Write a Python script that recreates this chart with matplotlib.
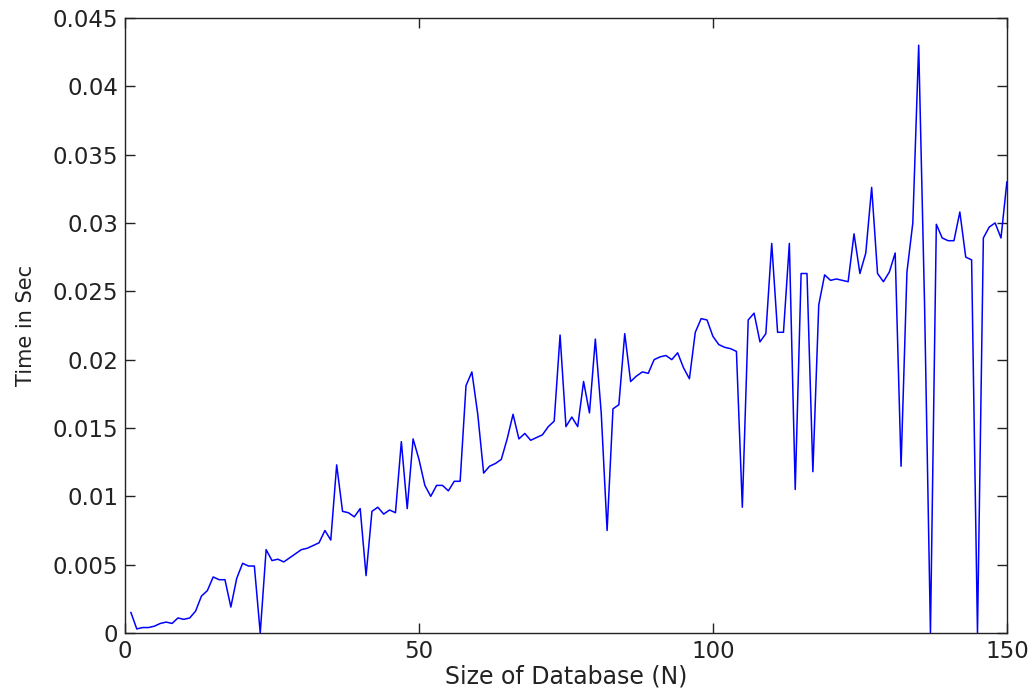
import numpy as np
import matplotlib
matplotlib.use('Agg')
import matplotlib.pyplot as plt
from matplotlib.ticker import FuncFormatter

# size of database N = 1..150
sizes = list(range(1, 151))

# time in seconds
times = [
	0.0015, 0.0003, 0.0004, 0.0004, 0.0005, 0.0007, 0.0008, 0.0007, 0.0011, 0.0010,
	0.0011, 0.0016, 0.0027, 0.0031, 0.0041, 0.0039, 0.0039, 0.0019, 0.0040, 0.0051,
	0.0049, 0.0049, 0.0000, 0.0061, 0.0053, 0.0054, 0.0052, 0.0055, 0.0058, 0.0061,
	0.0062, 0.0064, 0.0066, 0.0075, 0.0068, 0.0123, 0.0089, 0.0088, 0.0085, 0.0091,
	0.0042, 0.0089, 0.0092, 0.0087, 0.0090, 0.0088, 0.0140, 0.0091, 0.0142, 0.0127,
	0.0108, 0.0100, 0.0108, 0.0108, 0.0104, 0.0111, 0.0111, 0.0181, 0.0191, 0.0160,
	0.0117, 0.0122, 0.0124, 0.0127, 0.0142, 0.0160, 0.0142, 0.0146, 0.0141, 0.0143,
	0.0145, 0.0151, 0.0155, 0.0218, 0.0151, 0.0158, 0.0151, 0.0184, 0.0161, 0.0215,
	0.0161, 0.0075, 0.0164, 0.0167, 0.0219, 0.0184, 0.0188, 0.0191, 0.0190, 0.0200,
	0.0202, 0.0203, 0.0200, 0.0205, 0.0194, 0.0186, 0.0220, 0.0230, 0.0229, 0.0217,
	0.0211, 0.0209, 0.0208, 0.0206, 0.0092, 0.0229, 0.0234, 0.0213, 0.0219, 0.0285,
	0.0220, 0.0220, 0.0285, 0.0105, 0.0263, 0.0263, 0.0118, 0.0240, 0.0262, 0.0258,
	0.0259, 0.0258, 0.0257, 0.0292, 0.0263, 0.0278, 0.0326, 0.0263, 0.0257, 0.0264,
	0.0278, 0.0122, 0.0264, 0.0300, 0.0430, 0.0240, 0.0000, 0.0299, 0.0289, 0.0287,
	0.0287, 0.0308, 0.0275, 0.0273, 0.0000, 0.0289, 0.0297, 0.0300, 0.0289, 0.0330,
]

xticks = [0, 50, 100, 150]
yticks = [0, 0.005, 0.01, 0.015, 0.02, 0.025, 0.03, 0.035, 0.04, 0.045]

plt.rcParams['font.family'] = ['DejaVu Sans']

fig = plt.figure(figsize=(10.29, 6.99), dpi=100)
ax = fig.add_axes([0.1215, 0.0944, 0.857, 0.880])

ax.plot(sizes, times, color='#0000ff', linewidth=1.1)

ax.set_xlim(0, 150)
ax.set_ylim(0, 0.045)
ax.set_xticks(xticks)
ax.set_yticks(yticks)
ax.yaxis.set_major_formatter(FuncFormatter(lambda v, p: '%g' % v))
ax.tick_params(direction='in', length=7, width=1, top=True, right=True,
	labelsize=16.5, colors='#222222', pad=5)
for sp in ax.spines.values():
	sp.set_linewidth(1)
	sp.set_color('#222222')

ax.set_xlabel('Size of Database (N)', fontsize=17, labelpad=1, color='#222222')
ax.set_ylabel('Time in Sec', fontsize=15, labelpad=12, color='#222222')

fig.savefig('out.png', dpi=100)
